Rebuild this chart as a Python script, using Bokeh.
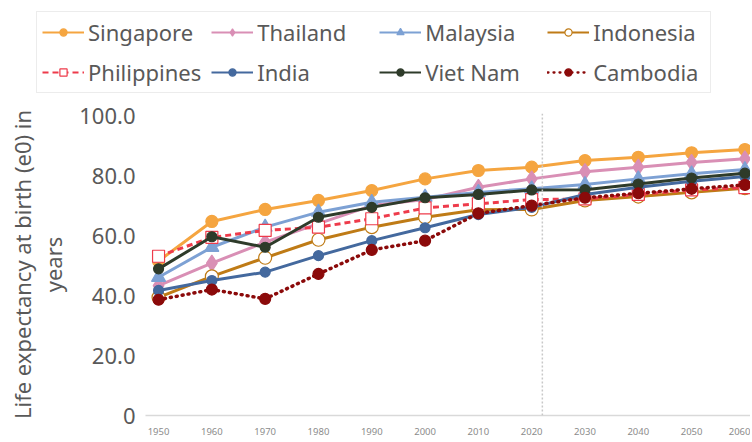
from bokeh.plotting import figure
from bokeh.models import Legend, LegendItem, Span, FixedTicker
from bokeh.embed import file_html
from bokeh.resources import INLINE

years = [1950, 1960, 1970, 1980, 1990, 2000, 2010, 2020, 2030, 2040, 2050, 2060]
singapore = [51.5, 64.7, 68.7, 71.7, 75.0, 78.9, 81.7, 82.8, 85.0, 86.1, 87.6, 88.7]
thailand = [43.3, 50.8, 57.8, 64.0, 70.0, 72.0, 76.1, 78.9, 81.3, 82.8, 84.4, 85.6]
malaysia = [46.1, 56.1, 62.8, 67.8, 71.1, 72.8, 74.4, 75.6, 77.0, 78.9, 80.6, 82.0]
indonesia = [39.4, 46.4, 52.6, 58.6, 62.8, 66.1, 68.6, 68.7, 71.7, 73.0, 74.4, 75.8]
philippines = [53.1, 59.4, 61.7, 62.8, 65.6, 69.2, 70.6, 72.0, 72.2, 73.7, 75.2, 76.0]
india = [41.7, 45.0, 47.8, 53.3, 58.3, 62.6, 67.0, 69.4, 73.7, 76.1, 78.1, 79.7]
viet_nam = [48.9, 59.6, 56.1, 66.1, 69.4, 72.6, 73.7, 75.2, 75.3, 77.2, 79.2, 80.8]
cambodia = [38.6, 42.0, 38.9, 47.2, 55.2, 58.3, 67.4, 70.0, 72.6, 74.1, 75.6, 76.9]

y_ticks = [0, 20, 40, 60, 80, 100]
y_tick_labels = ["0", "20.0", "40.0", "60.0", "80.0", "100.0"]
projection_start = 2022

FONT = "Noto Sans"
GRAY = "#595959"

series = [
    ("Singapore", singapore, "#F5A540", "solid", "circle", 12, "#F5A540"),
    ("Thailand", thailand, "#D98FB5", "solid", "diamond", 16, "#D98FB5"),
    ("Malaysia", malaysia, "#7DA1D4", "solid", "triangle", 14, "#7DA1D4"),
    ("Indonesia", indonesia, "#BF7B16", "solid", "circle", 13, "white"),
    ("Philippines", philippines, "#EE3B4B", "6 4", "square", 12, "white"),
    ("India", india, "#44699E", "solid", "circle", 10, "#44699E"),
    ("Viet Nam", viet_nam, "#2E3B2A", "solid", "circle", 10, "#2E3B2A"),
    ("Cambodia", cambodia, "#8B0A0A", "1 5", "circle", 11, "#8B0A0A"),
]


def draw(fig, scale=1.0):
    out = {}
    for name, vals, color, dash, marker, size, fill in series:
        lw = 3.5 if name == "Cambodia" else 3
        r1 = fig.line(years, vals, line_color=color, line_width=lw * scale,
                      line_dash=dash,
                      line_cap="round" if name == "Cambodia" else "butt")
        r2 = fig.scatter(years, vals, marker=marker, size=size * scale,
                         line_color=color, fill_color=fill, line_width=1.2)
        out[name] = LegendItem(label=name, renderers=[r1, r2])
    return out


# main chart
p = figure(width=750, height=343, output_backend="svg", toolbar_location=None,
           x_range=(1947.55, 2061.05), y_range=(0, 100.7),
           min_border_left=145, min_border_right=0, min_border_top=16,
           min_border_bottom=25)
p.outline_line_color = None
p.xgrid.grid_line_color = None
p.ygrid.grid_line_color = None
draw(p)

p.add_layout(Span(location=projection_start, dimension="height",
                  line_color="#C8C8C8", line_width=1.5, line_dash="2 2"))

p.xaxis.ticker = FixedTicker(ticks=years)
p.xaxis.axis_line_color = "#D9D9D9"
p.xaxis.axis_line_width = 1.5
p.xaxis.major_tick_line_color = None
p.xaxis.minor_tick_line_color = None
p.xaxis.major_tick_out = 0
p.xaxis.major_tick_in = 0
p.xaxis.minor_tick_out = 0
p.xaxis.major_label_text_font = FONT
p.xaxis.major_label_text_font_size = "9.5px"
p.xaxis.major_label_text_color = "#8C8C8C"
p.xaxis.major_label_standoff = 12

p.yaxis.ticker = FixedTicker(ticks=y_ticks)
p.yaxis.major_label_overrides = {t: l for t, l in zip(y_ticks, y_tick_labels)}
p.yaxis.axis_line_color = None
p.yaxis.major_tick_line_color = None
p.yaxis.minor_tick_line_color = None
p.yaxis.major_tick_out = 0
p.yaxis.major_tick_in = 0
p.yaxis.minor_tick_out = 0
p.yaxis.major_label_text_font = FONT
p.yaxis.major_label_text_font_size = "22px"
p.yaxis.major_label_text_color = GRAY
p.yaxis.major_label_standoff = 10
p.yaxis.axis_label = "Life expectancy at birth (e0) in\nyears"
p.yaxis.axis_label_text_font = FONT
p.yaxis.axis_label_text_font_size = "22px"
p.yaxis.axis_label_text_font_style = "normal"
p.yaxis.axis_label_text_color = GRAY
p.yaxis.axis_label_text_line_height = 1.05
p.yaxis.axis_label_standoff = 8

# legend strip (its own frame; the data lies outside its range so only the legend shows)
lf = figure(width=750, height=97, output_backend="svg", toolbar_location=None,
            x_range=(0, 1), y_range=(0, 1), min_border_left=33,
            min_border_right=0, min_border_top=8, min_border_bottom=0)
lf.axis.visible = False
lf.grid.visible = False
lf.outline_line_color = None
leg_items = draw(lf, scale=0.65)
# legend fills column by column: two rows, four columns
order = ["Singapore", "Philippines", "Thailand", "India",
         "Malaysia", "Viet Nam", "Indonesia", "Cambodia"]
legend = Legend(items=[leg_items[n] for n in order], nrows=2,
                location="top_left",
                label_text_font=FONT, label_text_font_size="22px",
                label_text_color=GRAY, glyph_width=42, glyph_height=18,
                label_height=30, label_width=112, label_standoff=4,
                spacing=10, padding=5,
                margin=3, border_line_color="#D9D9D9", border_line_width=1,
                background_fill_alpha=1.0)
lf.add_layout(legend, "center")

open("out.html", "w").write(file_html([lf, p], INLINE))
